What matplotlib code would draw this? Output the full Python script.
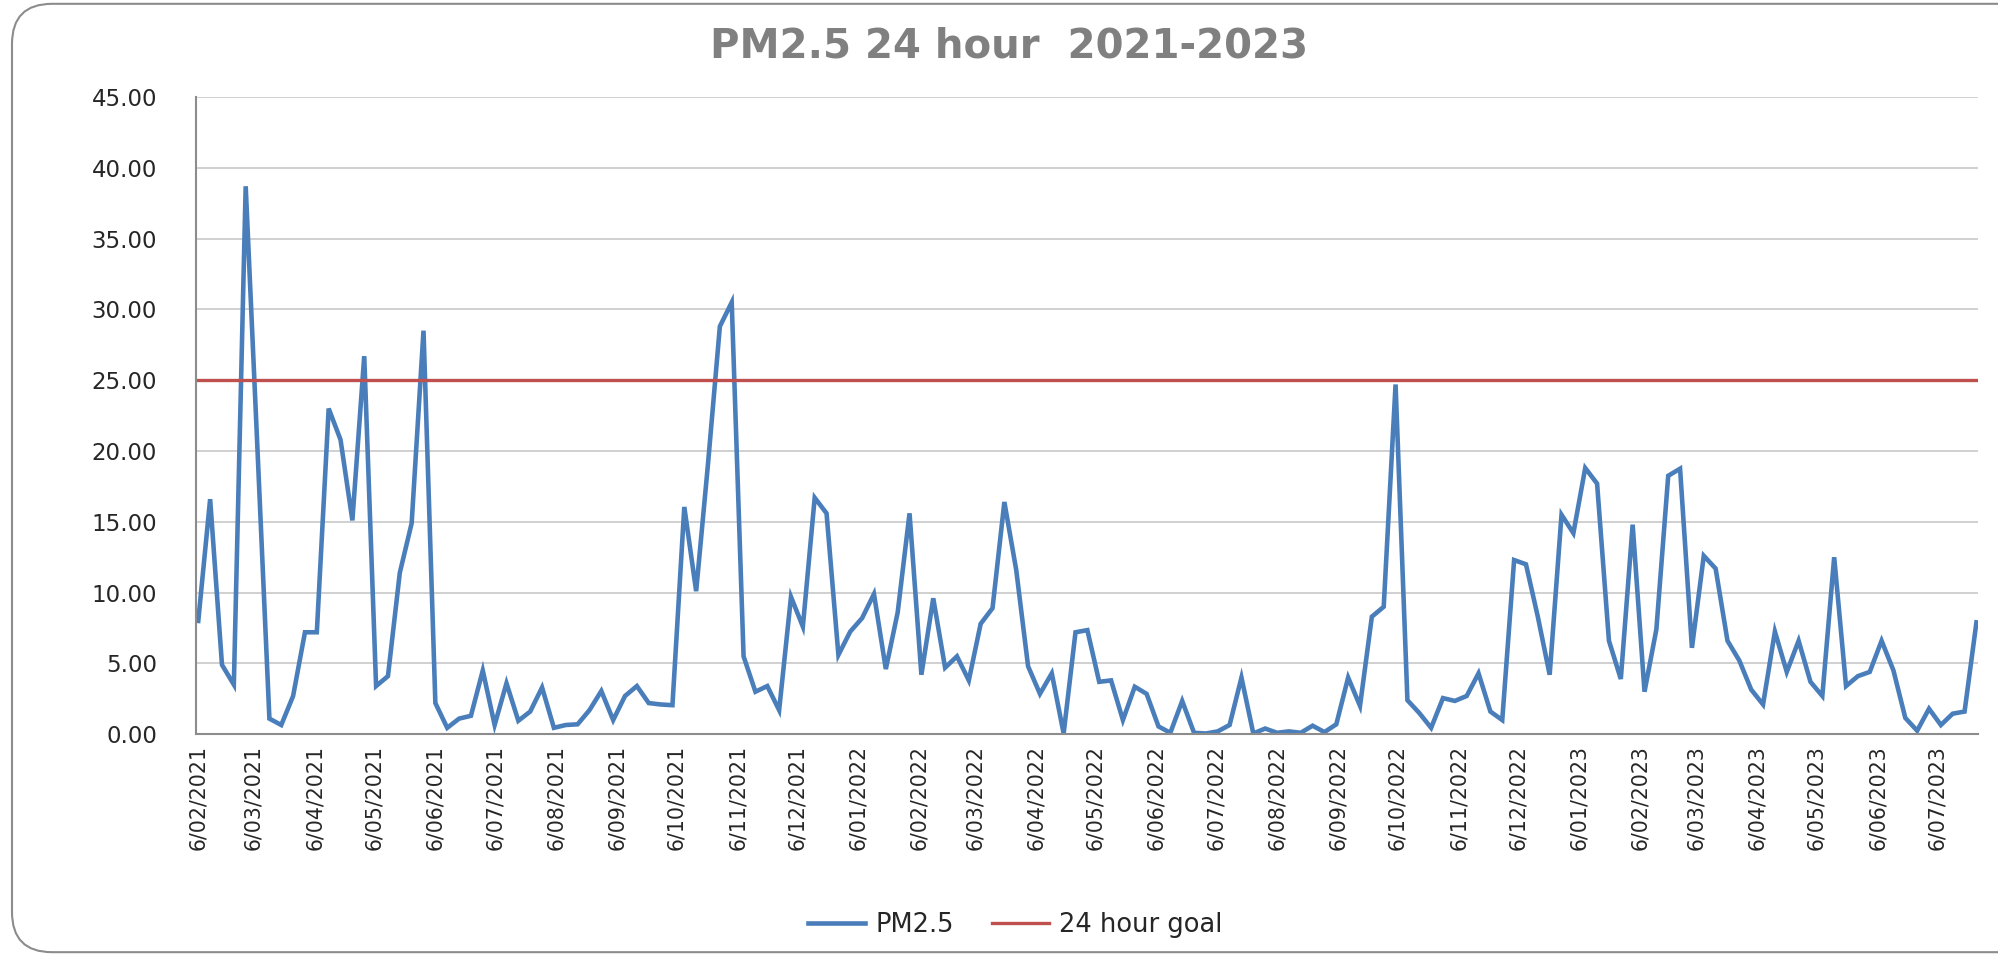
import datetime as dt
import matplotlib
matplotlib.use("Agg")
import matplotlib.pyplot as plt
import matplotlib.dates as mdates
from matplotlib.patches import FancyBboxPatch

# PM2.5 24h samples, one every 6 days starting 6 Feb 2021
start_date = dt.date(2021, 2, 6)
step_days = 6
pm25 = [
    8.0, 16.6, 4.9, 3.5, 38.7, 20.0, 1.1, 0.65, 2.7, 7.2,
    7.2, 23.0, 20.8, 15.1, 26.7, 3.4, 4.1, 11.4, 14.9, 28.5,
    2.2, 0.45, 1.1, 1.3, 4.5, 0.65, 3.6, 0.95, 1.6, 3.3,
    0.45, 0.65, 0.7, 1.7, 3.05, 1.0, 2.7, 3.4, 2.2, 2.1,
    2.05, 16.05, 10.1, 19.1, 28.8, 30.5, 5.5, 3.0, 3.4, 1.7,
    9.7, 7.6, 16.7, 15.6, 5.6, 7.25, 8.2, 9.9, 4.6, 8.6,
    15.6, 4.2, 9.6, 4.7, 5.5, 3.8, 7.8, 8.9, 16.4, 11.6,
    4.8, 2.85, 4.3, 0.05, 7.2, 7.35, 3.7, 3.8, 1.0, 3.35,
    2.85, 0.55, 0.1, 2.35, 0.1, 0.05, 0.2, 0.65, 4.0, 0.05,
    0.4, 0.1, 0.2, 0.1, 0.6, 0.15, 0.7, 4.0, 2.0, 8.3,
    9.0, 24.7, 2.4, 1.5, 0.45, 2.55, 2.35, 2.7, 4.3, 1.6,
    1.0, 12.3, 12.0, 8.3, 4.2, 15.5, 14.2, 18.8, 17.7, 6.6,
    3.9, 14.8, 3.0, 7.4, 18.25, 18.75, 6.1, 12.6, 11.7, 6.6,
    5.2, 3.15, 2.1, 7.25, 4.4, 6.6, 3.7, 2.7, 12.5, 3.4,
    4.1, 4.4, 6.6, 4.5, 1.15, 0.25, 1.8, 0.65, 1.45, 1.6,
    7.9,
]
goal = 25.0
title = "PM2.5 24 hour  2021-2023"

dates = [start_date + dt.timedelta(days=step_days * i) for i in range(len(pm25))]

# monthly labels on the 6th, d/mm/yyyy
tick_dates = []
y, m = 2021, 2
while dt.date(y, m, 6) <= dates[-1]:
    tick_dates.append(dt.date(y, m, 6))
    m += 1
    if m > 12:
        m, y = 1, y + 1
tick_labels = ["%d/%02d/%d" % (d.day, d.month, d.year) for d in tick_dates]

fig = plt.figure(figsize=(19.99, 9.56), dpi=100)
ax = fig.add_axes([0.098, 0.232, 0.8915, 0.6665])

# chart area border (rounded, right side runs off the picture)
border = FancyBboxPatch((0.006, 0.004), 1.2, 0.992, boxstyle="round,pad=0,rounding_size=0.02",
                        transform=fig.transFigure, fill=False, edgecolor="#8c8c8c",
                        linewidth=1.5, mutation_aspect=2.1)
fig.patches.append(border)

ax.plot(dates, pm25, color="#4A7EBB", linewidth=3.3, label="PM2.5", solid_joinstyle="miter")
ax.plot([dates[0] - dt.timedelta(days=2), dates[-1] + dt.timedelta(days=2)], [goal, goal],
        color="#C0504D", linewidth=2.4, label="24 hour goal")

ax.set_xlim(mdates.date2num(dates[0]) - 1.2, mdates.date2num(dates[-1]) + 0.8)
ax.set_ylim(0, 45)
ax.set_yticks(range(0, 50, 5))
ax.set_yticklabels(["%.2f" % v for v in range(0, 50, 5)])
ax.set_xticks(tick_dates)
ax.set_xticklabels(tick_labels, rotation=90, va="top", ha="center")

ax.grid(axis="y", color="#c8c8c8", linewidth=1.2)
ax.set_axisbelow(True)
for s in ["top", "right"]:
    ax.spines[s].set_visible(False)
for s in ["left", "bottom"]:
    ax.spines[s].set_color("#8c8c8c")
    ax.spines[s].set_linewidth(1.5)
ax.tick_params(axis="y", length=0, pad=28, labelsize=16.5, labelcolor="#262626")
ax.tick_params(axis="x", length=0, pad=8, labelsize=14.8, labelcolor="#262626")

fig.text(0.505, 0.951, title, ha="center", va="center", fontsize=29, fontweight="bold",
         color="#808080")

fig.legend(loc="center", bbox_to_anchor=(0.508, 0.032), ncol=2, frameon=False,
           fontsize=18.5, handlelength=2.2, handletextpad=0.4, columnspacing=1.5,
           labelcolor="#262626")

fig.savefig("out.png", dpi=100)
